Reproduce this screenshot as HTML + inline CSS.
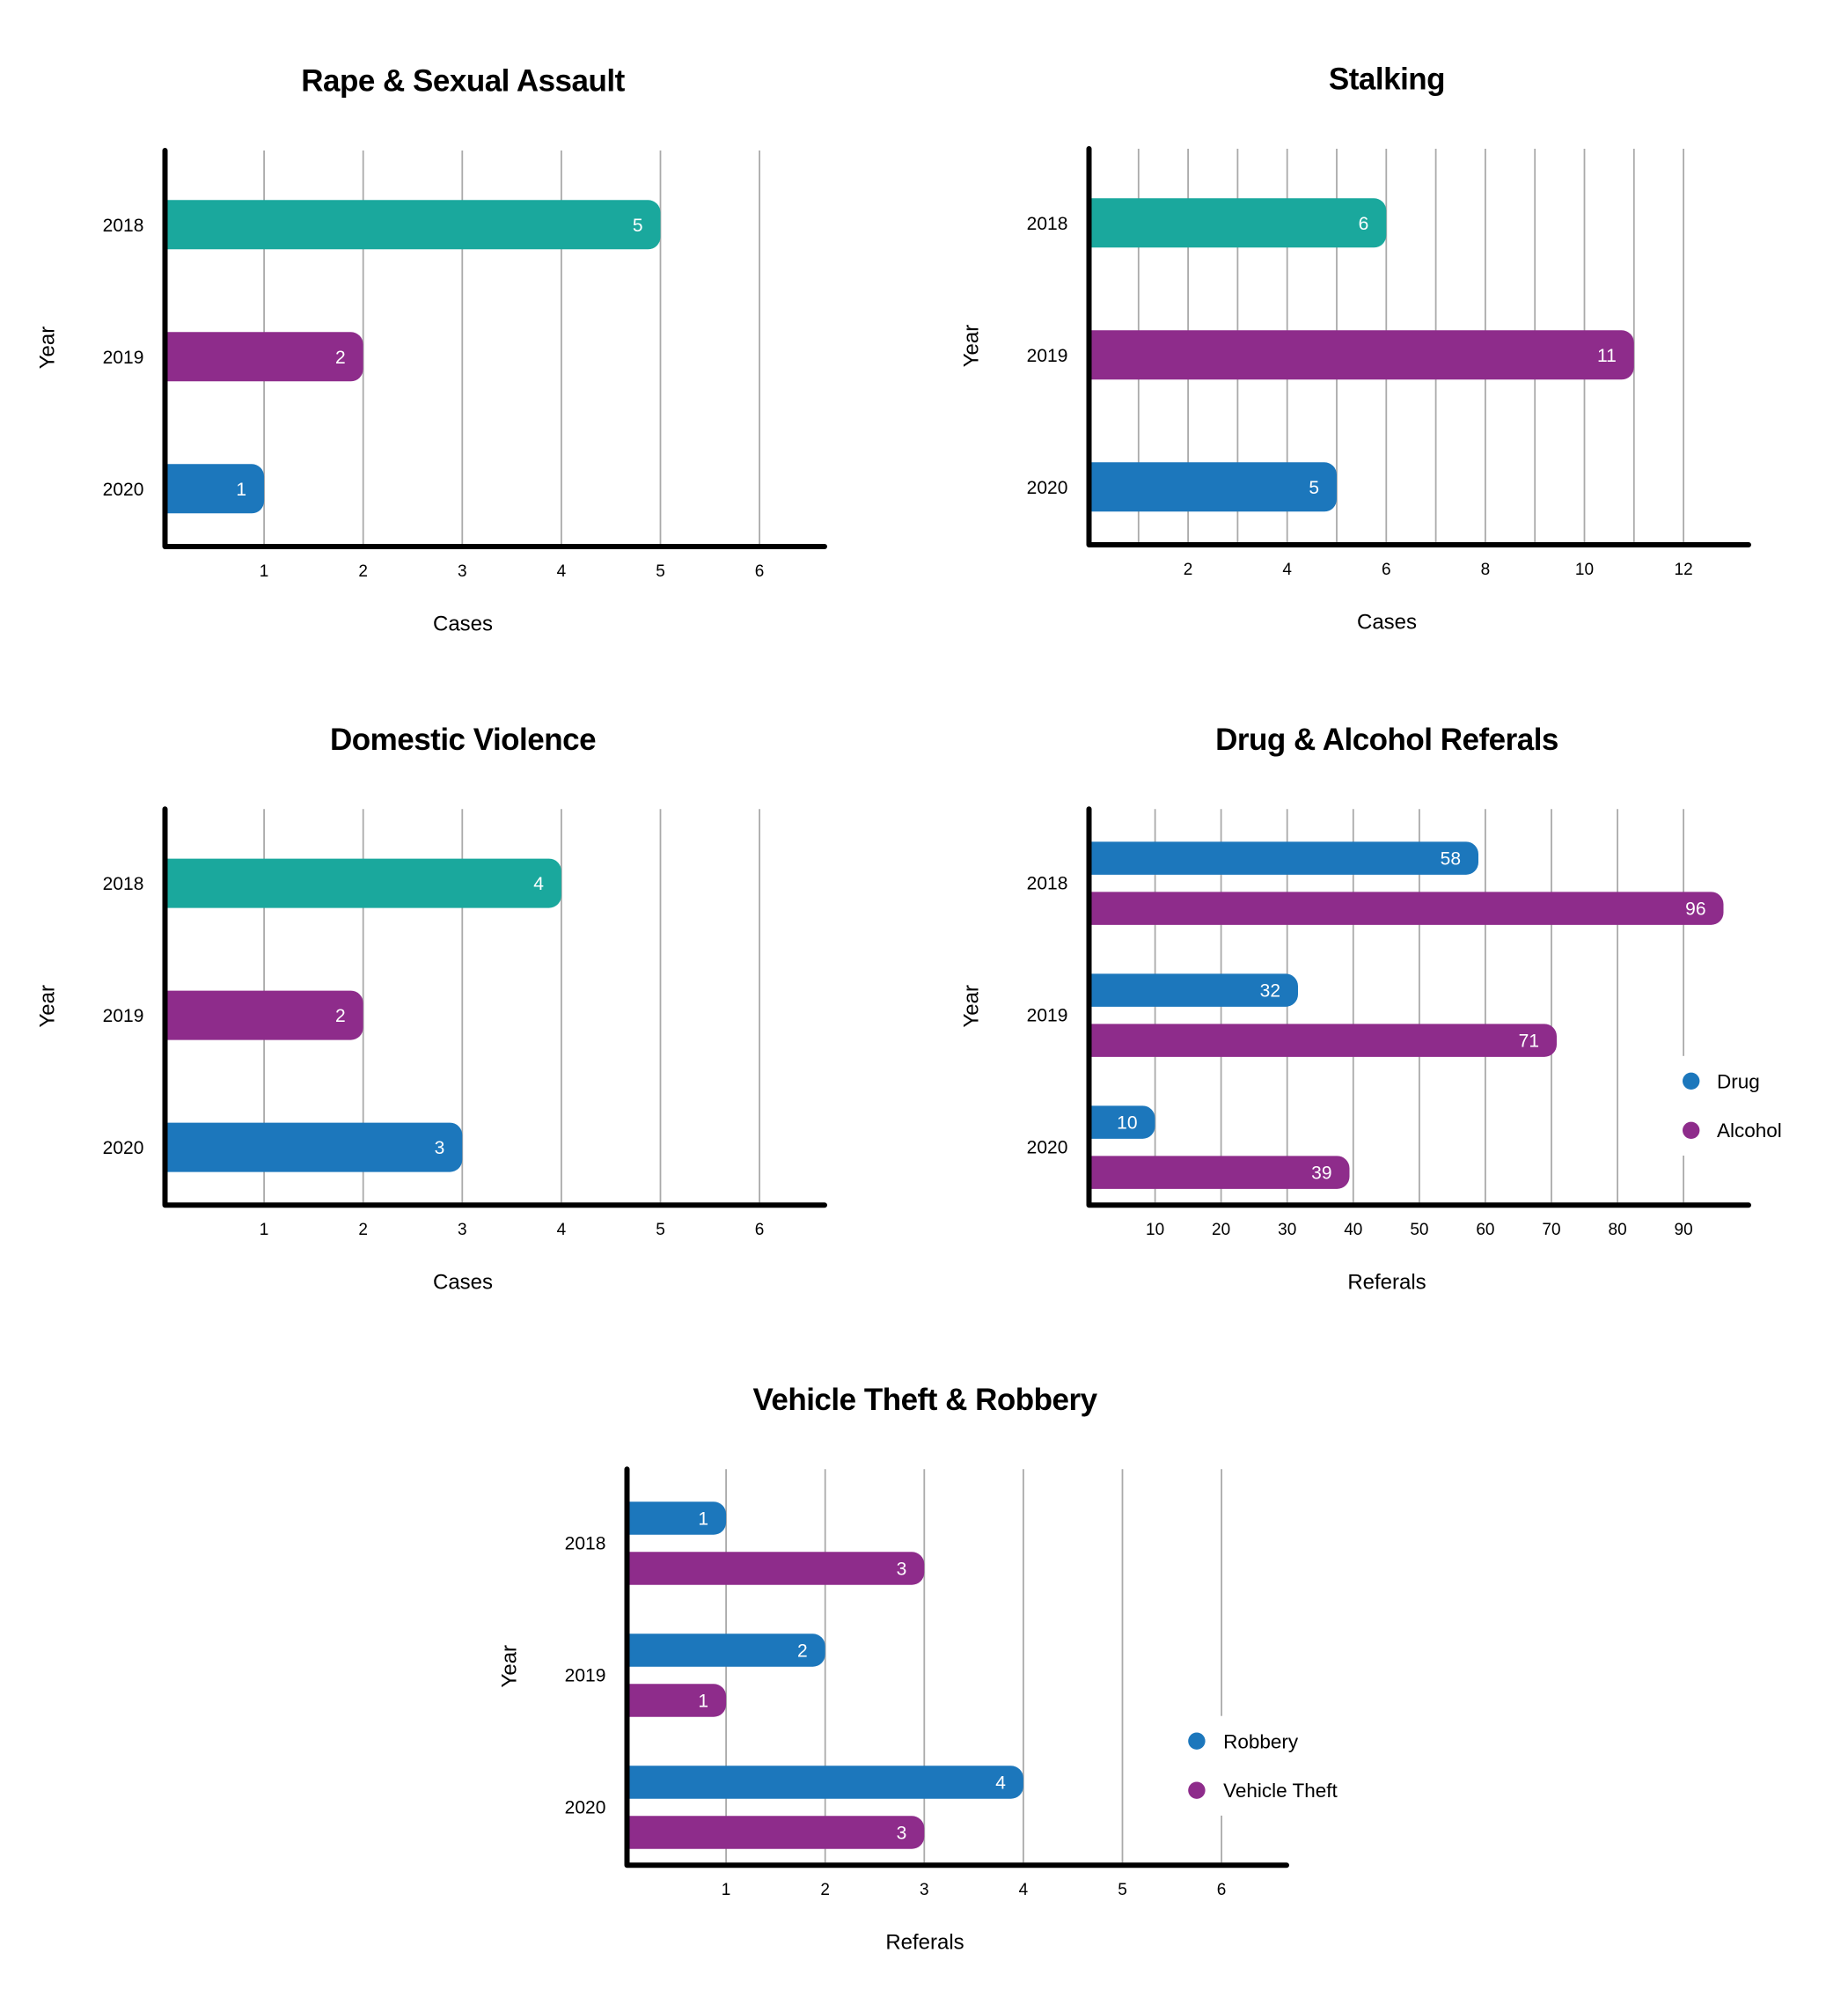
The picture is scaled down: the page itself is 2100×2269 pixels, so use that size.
<!DOCTYPE html>
<html><head><meta charset="utf-8"><style>
html,body{margin:0;padding:0;background:#fff;}
svg{display:block;}
text{font-family:"Liberation Sans",Arial,sans-serif;}
.ttl{font-size:35px;font-weight:bold;letter-spacing:-0.5px;fill:#000;}
.yl{font-size:21px;fill:#000;}
.xt{font-size:19px;fill:#000;}
.at{font-size:24px;fill:#000;}
.vl{font-size:21px;fill:#fff;}
.lg{font-size:22.5px;fill:#000;}
.grid line{stroke:#aaa;stroke-width:1.8;}
.ax{fill:none;stroke:#000;stroke-width:6;stroke-linecap:round;stroke-linejoin:round;}
</style></head><body>
<svg width="2100" height="2269" viewBox="0 0 2100 2269" xmlns="http://www.w3.org/2000/svg">
<rect x="0" y="0" width="2100" height="2269" fill="#fff"/>

<!-- Chart 1: Rape & Sexual Assault -->
<g transform="translate(0,0)">
  <text class="ttl" x="526" y="103.7" text-anchor="middle">Rape &amp; Sexual Assault</text>
  <g class="grid">
    <line x1="300.1" y1="171" x2="300.1" y2="618"/>
    <line x1="412.7" y1="171" x2="412.7" y2="618"/>
    <line x1="525.3" y1="171" x2="525.3" y2="618"/>
    <line x1="637.9" y1="171" x2="637.9" y2="618"/>
    <line x1="750.5" y1="171" x2="750.5" y2="618"/>
    <line x1="863.1" y1="171" x2="863.1" y2="618"/>
  </g>
  <path d="M190.5,227.3 H736.5 A14,14 0 0 1 750.5,241.3 V269.3 A14,14 0 0 1 736.5,283.3 H190.5 Z" fill="#1aa89d"/>
  <path d="M190.5,377.3 H398.7 A14,14 0 0 1 412.7,391.3 V419.3 A14,14 0 0 1 398.7,433.3 H190.5 Z" fill="#8e2c8b"/>
  <path d="M190.5,527.3 H286.1 A14,14 0 0 1 300.1,541.3 V569.3 A14,14 0 0 1 286.1,583.3 H190.5 Z" fill="#1c77bc"/>
  <text class="vl" x="730.5" y="262.8" text-anchor="end">5</text>
  <text class="vl" x="392.7" y="412.8" text-anchor="end">2</text>
  <text class="vl" x="280.1" y="562.8" text-anchor="end">1</text>
  <path class="ax" d="M187.5,171 V621 H937"/>
  <text class="yl" x="163.4" y="262.8" text-anchor="end">2018</text>
  <text class="yl" x="163.4" y="412.8" text-anchor="end">2019</text>
  <text class="yl" x="163.4" y="562.8" text-anchor="end">2020</text>
  <text class="xt" x="300.1" y="654.8" text-anchor="middle">1</text>
  <text class="xt" x="412.7" y="654.8" text-anchor="middle">2</text>
  <text class="xt" x="525.3" y="654.8" text-anchor="middle">3</text>
  <text class="xt" x="637.9" y="654.8" text-anchor="middle">4</text>
  <text class="xt" x="750.5" y="654.8" text-anchor="middle">5</text>
  <text class="xt" x="863.1" y="654.8" text-anchor="middle">6</text>
  <text class="at" x="526" y="716.4" text-anchor="middle">Cases</text>
  <text class="at" transform="translate(61.6,395) rotate(-90)" text-anchor="middle">Year</text>
</g>

<!-- Chart 2: Stalking -->
<g transform="translate(1050,-2)">
  <text class="ttl" x="526" y="103.7" text-anchor="middle">Stalking</text>
  <g class="grid">
    <line x1="243.8" y1="171" x2="243.8" y2="618"/>
    <line x1="300.1" y1="171" x2="300.1" y2="618"/>
    <line x1="356.4" y1="171" x2="356.4" y2="618"/>
    <line x1="412.7" y1="171" x2="412.7" y2="618"/>
    <line x1="469.0" y1="171" x2="469.0" y2="618"/>
    <line x1="525.3" y1="171" x2="525.3" y2="618"/>
    <line x1="581.6" y1="171" x2="581.6" y2="618"/>
    <line x1="637.9" y1="171" x2="637.9" y2="618"/>
    <line x1="694.2" y1="171" x2="694.2" y2="618"/>
    <line x1="750.5" y1="171" x2="750.5" y2="618"/>
    <line x1="806.8" y1="171" x2="806.8" y2="618"/>
    <line x1="863.1" y1="171" x2="863.1" y2="618"/>
  </g>
  <path d="M190.5,227.3 H511.3 A14,14 0 0 1 525.3,241.3 V269.3 A14,14 0 0 1 511.3,283.3 H190.5 Z" fill="#1aa89d"/>
  <path d="M190.5,377.3 H792.8 A14,14 0 0 1 806.8,391.3 V419.3 A14,14 0 0 1 792.8,433.3 H190.5 Z" fill="#8e2c8b"/>
  <path d="M190.5,527.3 H455 A14,14 0 0 1 469,541.3 V569.3 A14,14 0 0 1 455,583.3 H190.5 Z" fill="#1c77bc"/>
  <text class="vl" x="505.3" y="262.8" text-anchor="end">6</text>
  <text class="vl" x="786.8" y="412.8" text-anchor="end">11</text>
  <text class="vl" x="449" y="562.8" text-anchor="end">5</text>
  <path class="ax" d="M187.5,171 V621 H937"/>
  <text class="yl" x="163.4" y="262.8" text-anchor="end">2018</text>
  <text class="yl" x="163.4" y="412.8" text-anchor="end">2019</text>
  <text class="yl" x="163.4" y="562.8" text-anchor="end">2020</text>
  <text class="xt" x="300.1" y="654.8" text-anchor="middle">2</text>
  <text class="xt" x="412.7" y="654.8" text-anchor="middle">4</text>
  <text class="xt" x="525.3" y="654.8" text-anchor="middle">6</text>
  <text class="xt" x="637.9" y="654.8" text-anchor="middle">8</text>
  <text class="xt" x="750.5" y="654.8" text-anchor="middle">10</text>
  <text class="xt" x="863.1" y="654.8" text-anchor="middle">12</text>
  <text class="at" x="526" y="716.4" text-anchor="middle">Cases</text>
  <text class="at" transform="translate(61.6,395) rotate(-90)" text-anchor="middle">Year</text>
</g>

<!-- Chart 3: Domestic Violence -->
<g transform="translate(0,748.3)">
  <text class="ttl" x="526" y="103.7" text-anchor="middle">Domestic Violence</text>
  <g class="grid">
    <line x1="300.1" y1="171" x2="300.1" y2="618"/>
    <line x1="412.7" y1="171" x2="412.7" y2="618"/>
    <line x1="525.3" y1="171" x2="525.3" y2="618"/>
    <line x1="637.9" y1="171" x2="637.9" y2="618"/>
    <line x1="750.5" y1="171" x2="750.5" y2="618"/>
    <line x1="863.1" y1="171" x2="863.1" y2="618"/>
  </g>
  <path d="M188.5,227.3 H623.9 A14,14 0 0 1 637.9,241.3 V269.3 A14,14 0 0 1 623.9,283.3 H188.5 Z" fill="#1aa89d"/>
  <path d="M190.5,377.3 H398.7 A14,14 0 0 1 412.7,391.3 V419.3 A14,14 0 0 1 398.7,433.3 H190.5 Z" fill="#8e2c8b"/>
  <path d="M190.5,527.3 H511.3 A14,14 0 0 1 525.3,541.3 V569.3 A14,14 0 0 1 511.3,583.3 H190.5 Z" fill="#1c77bc"/>
  <text class="vl" x="617.9" y="262.8" text-anchor="end">4</text>
  <text class="vl" x="392.7" y="412.8" text-anchor="end">2</text>
  <text class="vl" x="505.3" y="562.8" text-anchor="end">3</text>
  <path class="ax" d="M187.5,171 V621 H937"/>
  <text class="yl" x="163.4" y="262.8" text-anchor="end">2018</text>
  <text class="yl" x="163.4" y="412.8" text-anchor="end">2019</text>
  <text class="yl" x="163.4" y="562.8" text-anchor="end">2020</text>
  <text class="xt" x="300.1" y="654.8" text-anchor="middle">1</text>
  <text class="xt" x="412.7" y="654.8" text-anchor="middle">2</text>
  <text class="xt" x="525.3" y="654.8" text-anchor="middle">3</text>
  <text class="xt" x="637.9" y="654.8" text-anchor="middle">4</text>
  <text class="xt" x="750.5" y="654.8" text-anchor="middle">5</text>
  <text class="xt" x="863.1" y="654.8" text-anchor="middle">6</text>
  <text class="at" x="526" y="716.4" text-anchor="middle">Cases</text>
  <text class="at" transform="translate(61.6,395) rotate(-90)" text-anchor="middle">Year</text>
</g>

<!-- Chart 4: Drug & Alcohol Referals -->
<g transform="translate(1050,748.3)">
  <text class="ttl" x="526" y="103.7" text-anchor="middle">Drug &amp; Alcohol Referals</text>
  <g class="grid">
    <line x1="262.6" y1="171" x2="262.6" y2="618"/>
    <line x1="337.6" y1="171" x2="337.6" y2="618"/>
    <line x1="412.7" y1="171" x2="412.7" y2="618"/>
    <line x1="487.8" y1="171" x2="487.8" y2="618"/>
    <line x1="562.9" y1="171" x2="562.9" y2="618"/>
    <line x1="637.9" y1="171" x2="637.9" y2="618"/>
    <line x1="713.0" y1="171" x2="713.0" y2="618"/>
    <line x1="788.1" y1="171" x2="788.1" y2="618"/>
    <line x1="863.1" y1="171" x2="863.1" y2="618"/>
  </g>
  <!-- 2018 -->
  <path d="M190.5,208.05 H616 A14,14 0 0 1 630,222.05 V231.55 A14,14 0 0 1 616,245.55 H190.5 Z" fill="#1c77bc"/>
  <path d="M190.5,265.05 H894.5 A14,14 0 0 1 908.5,279.05 V288.55 A14,14 0 0 1 894.5,302.55 H190.5 Z" fill="#8e2c8b"/>
  <!-- 2019 -->
  <path d="M190.5,358.05 H411 A14,14 0 0 1 425,372.05 V381.55 A14,14 0 0 1 411,395.55 H190.5 Z" fill="#1c77bc"/>
  <path d="M190.5,415.05 H705 A14,14 0 0 1 719,429.05 V438.55 A14,14 0 0 1 705,452.55 H190.5 Z" fill="#8e2c8b"/>
  <!-- 2020 -->
  <path d="M190.5,508.05 H248.5 A14,14 0 0 1 262.5,522.05 V531.55 A14,14 0 0 1 248.5,545.55 H190.5 Z" fill="#1c77bc"/>
  <path d="M190.5,565.05 H469.5 A14,14 0 0 1 483.5,579.05 V588.55 A14,14 0 0 1 469.5,602.55 H190.5 Z" fill="#8e2c8b"/>
  <text class="vl" x="610" y="234.3" text-anchor="end">58</text>
  <text class="vl" x="888.5" y="291.3" text-anchor="end">96</text>
  <text class="vl" x="405" y="384.3" text-anchor="end">32</text>
  <text class="vl" x="699" y="441.3" text-anchor="end">71</text>
  <text class="vl" x="242.5" y="534.3" text-anchor="end">10</text>
  <text class="vl" x="463.5" y="591.3" text-anchor="end">39</text>
  <rect x="855" y="451.5" width="145" height="113.2" fill="#fff"/>
  <circle cx="871.7" cy="480" r="9.7" fill="#1c77bc"/>
  <circle cx="871.7" cy="536" r="9.7" fill="#8e2c8b"/>
  <text class="lg" x="901" y="488.4">Drug</text>
  <text class="lg" x="901" y="543.9">Alcohol</text>
  <path class="ax" d="M187.5,171 V621 H937"/>
  <text class="yl" x="163.4" y="262.3" text-anchor="end">2018</text>
  <text class="yl" x="163.4" y="412.3" text-anchor="end">2019</text>
  <text class="yl" x="163.4" y="562.3" text-anchor="end">2020</text>
  <text class="xt" x="262.6" y="654.8" text-anchor="middle">10</text>
  <text class="xt" x="337.6" y="654.8" text-anchor="middle">20</text>
  <text class="xt" x="412.7" y="654.8" text-anchor="middle">30</text>
  <text class="xt" x="487.8" y="654.8" text-anchor="middle">40</text>
  <text class="xt" x="562.9" y="654.8" text-anchor="middle">50</text>
  <text class="xt" x="637.9" y="654.8" text-anchor="middle">60</text>
  <text class="xt" x="713.0" y="654.8" text-anchor="middle">70</text>
  <text class="xt" x="788.1" y="654.8" text-anchor="middle">80</text>
  <text class="xt" x="863.1" y="654.8" text-anchor="middle">90</text>
  <text class="at" x="526" y="716.4" text-anchor="middle">Referals</text>
  <text class="at" transform="translate(61.6,395) rotate(-90)" text-anchor="middle">Year</text>
</g>

<!-- Chart 5: Vehicle Theft & Robbery -->
<g transform="translate(525,1498.2)">
  <text class="ttl" x="526" y="103.7" text-anchor="middle">Vehicle Theft &amp; Robbery</text>
  <g class="grid">
    <line x1="300.1" y1="171" x2="300.1" y2="618"/>
    <line x1="412.7" y1="171" x2="412.7" y2="618"/>
    <line x1="525.3" y1="171" x2="525.3" y2="618"/>
    <line x1="637.9" y1="171" x2="637.9" y2="618"/>
    <line x1="750.5" y1="171" x2="750.5" y2="618"/>
    <line x1="863.1" y1="171" x2="863.1" y2="618"/>
  </g>
  <!-- 2018 -->
  <path d="M190.5,208.05 H286.1 A14,14 0 0 1 300.1,222.05 V231.55 A14,14 0 0 1 286.1,245.55 H190.5 Z" fill="#1c77bc"/>
  <path d="M190.5,265.05 H511.3 A14,14 0 0 1 525.3,279.05 V288.55 A14,14 0 0 1 511.3,302.55 H190.5 Z" fill="#8e2c8b"/>
  <!-- 2019 -->
  <path d="M190.5,358.05 H398.7 A14,14 0 0 1 412.7,372.05 V381.55 A14,14 0 0 1 398.7,395.55 H190.5 Z" fill="#1c77bc"/>
  <path d="M190.5,415.05 H286.1 A14,14 0 0 1 300.1,429.05 V438.55 A14,14 0 0 1 286.1,452.55 H190.5 Z" fill="#8e2c8b"/>
  <!-- 2020 -->
  <path d="M190.5,508.05 H623.9 A14,14 0 0 1 637.9,522.05 V531.55 A14,14 0 0 1 623.9,545.55 H190.5 Z" fill="#1c77bc"/>
  <path d="M190.5,565.05 H511.3 A14,14 0 0 1 525.3,579.05 V588.55 A14,14 0 0 1 511.3,602.55 H190.5 Z" fill="#8e2c8b"/>
  <text class="vl" x="280.1" y="234.3" text-anchor="end">1</text>
  <text class="vl" x="505.3" y="291.3" text-anchor="end">3</text>
  <text class="vl" x="392.7" y="384.3" text-anchor="end">2</text>
  <text class="vl" x="280.1" y="441.3" text-anchor="end">1</text>
  <text class="vl" x="617.9" y="534.3" text-anchor="end">4</text>
  <text class="vl" x="505.3" y="591.3" text-anchor="end">3</text>
  <rect x="815" y="451.5" width="200" height="113.2" fill="#fff"/>
  <circle cx="834.9" cy="480" r="9.7" fill="#1c77bc"/>
  <circle cx="834.9" cy="536" r="9.7" fill="#8e2c8b"/>
  <text class="lg" x="865.1" y="488.4">Robbery</text>
  <text class="lg" x="865.1" y="543.9">Vehicle Theft</text>
  <path class="ax" d="M187.5,171 V621 H937"/>
  <text class="yl" x="163.4" y="262.3" text-anchor="end">2018</text>
  <text class="yl" x="163.4" y="412.3" text-anchor="end">2019</text>
  <text class="yl" x="163.4" y="562.3" text-anchor="end">2020</text>
  <text class="xt" x="300.1" y="654.8" text-anchor="middle">1</text>
  <text class="xt" x="412.7" y="654.8" text-anchor="middle">2</text>
  <text class="xt" x="525.3" y="654.8" text-anchor="middle">3</text>
  <text class="xt" x="637.9" y="654.8" text-anchor="middle">4</text>
  <text class="xt" x="750.5" y="654.8" text-anchor="middle">5</text>
  <text class="xt" x="863.1" y="654.8" text-anchor="middle">6</text>
  <text class="at" x="526" y="716.4" text-anchor="middle">Referals</text>
  <text class="at" transform="translate(61.6,395) rotate(-90)" text-anchor="middle">Year</text>
</g>
</svg>
</body></html>
